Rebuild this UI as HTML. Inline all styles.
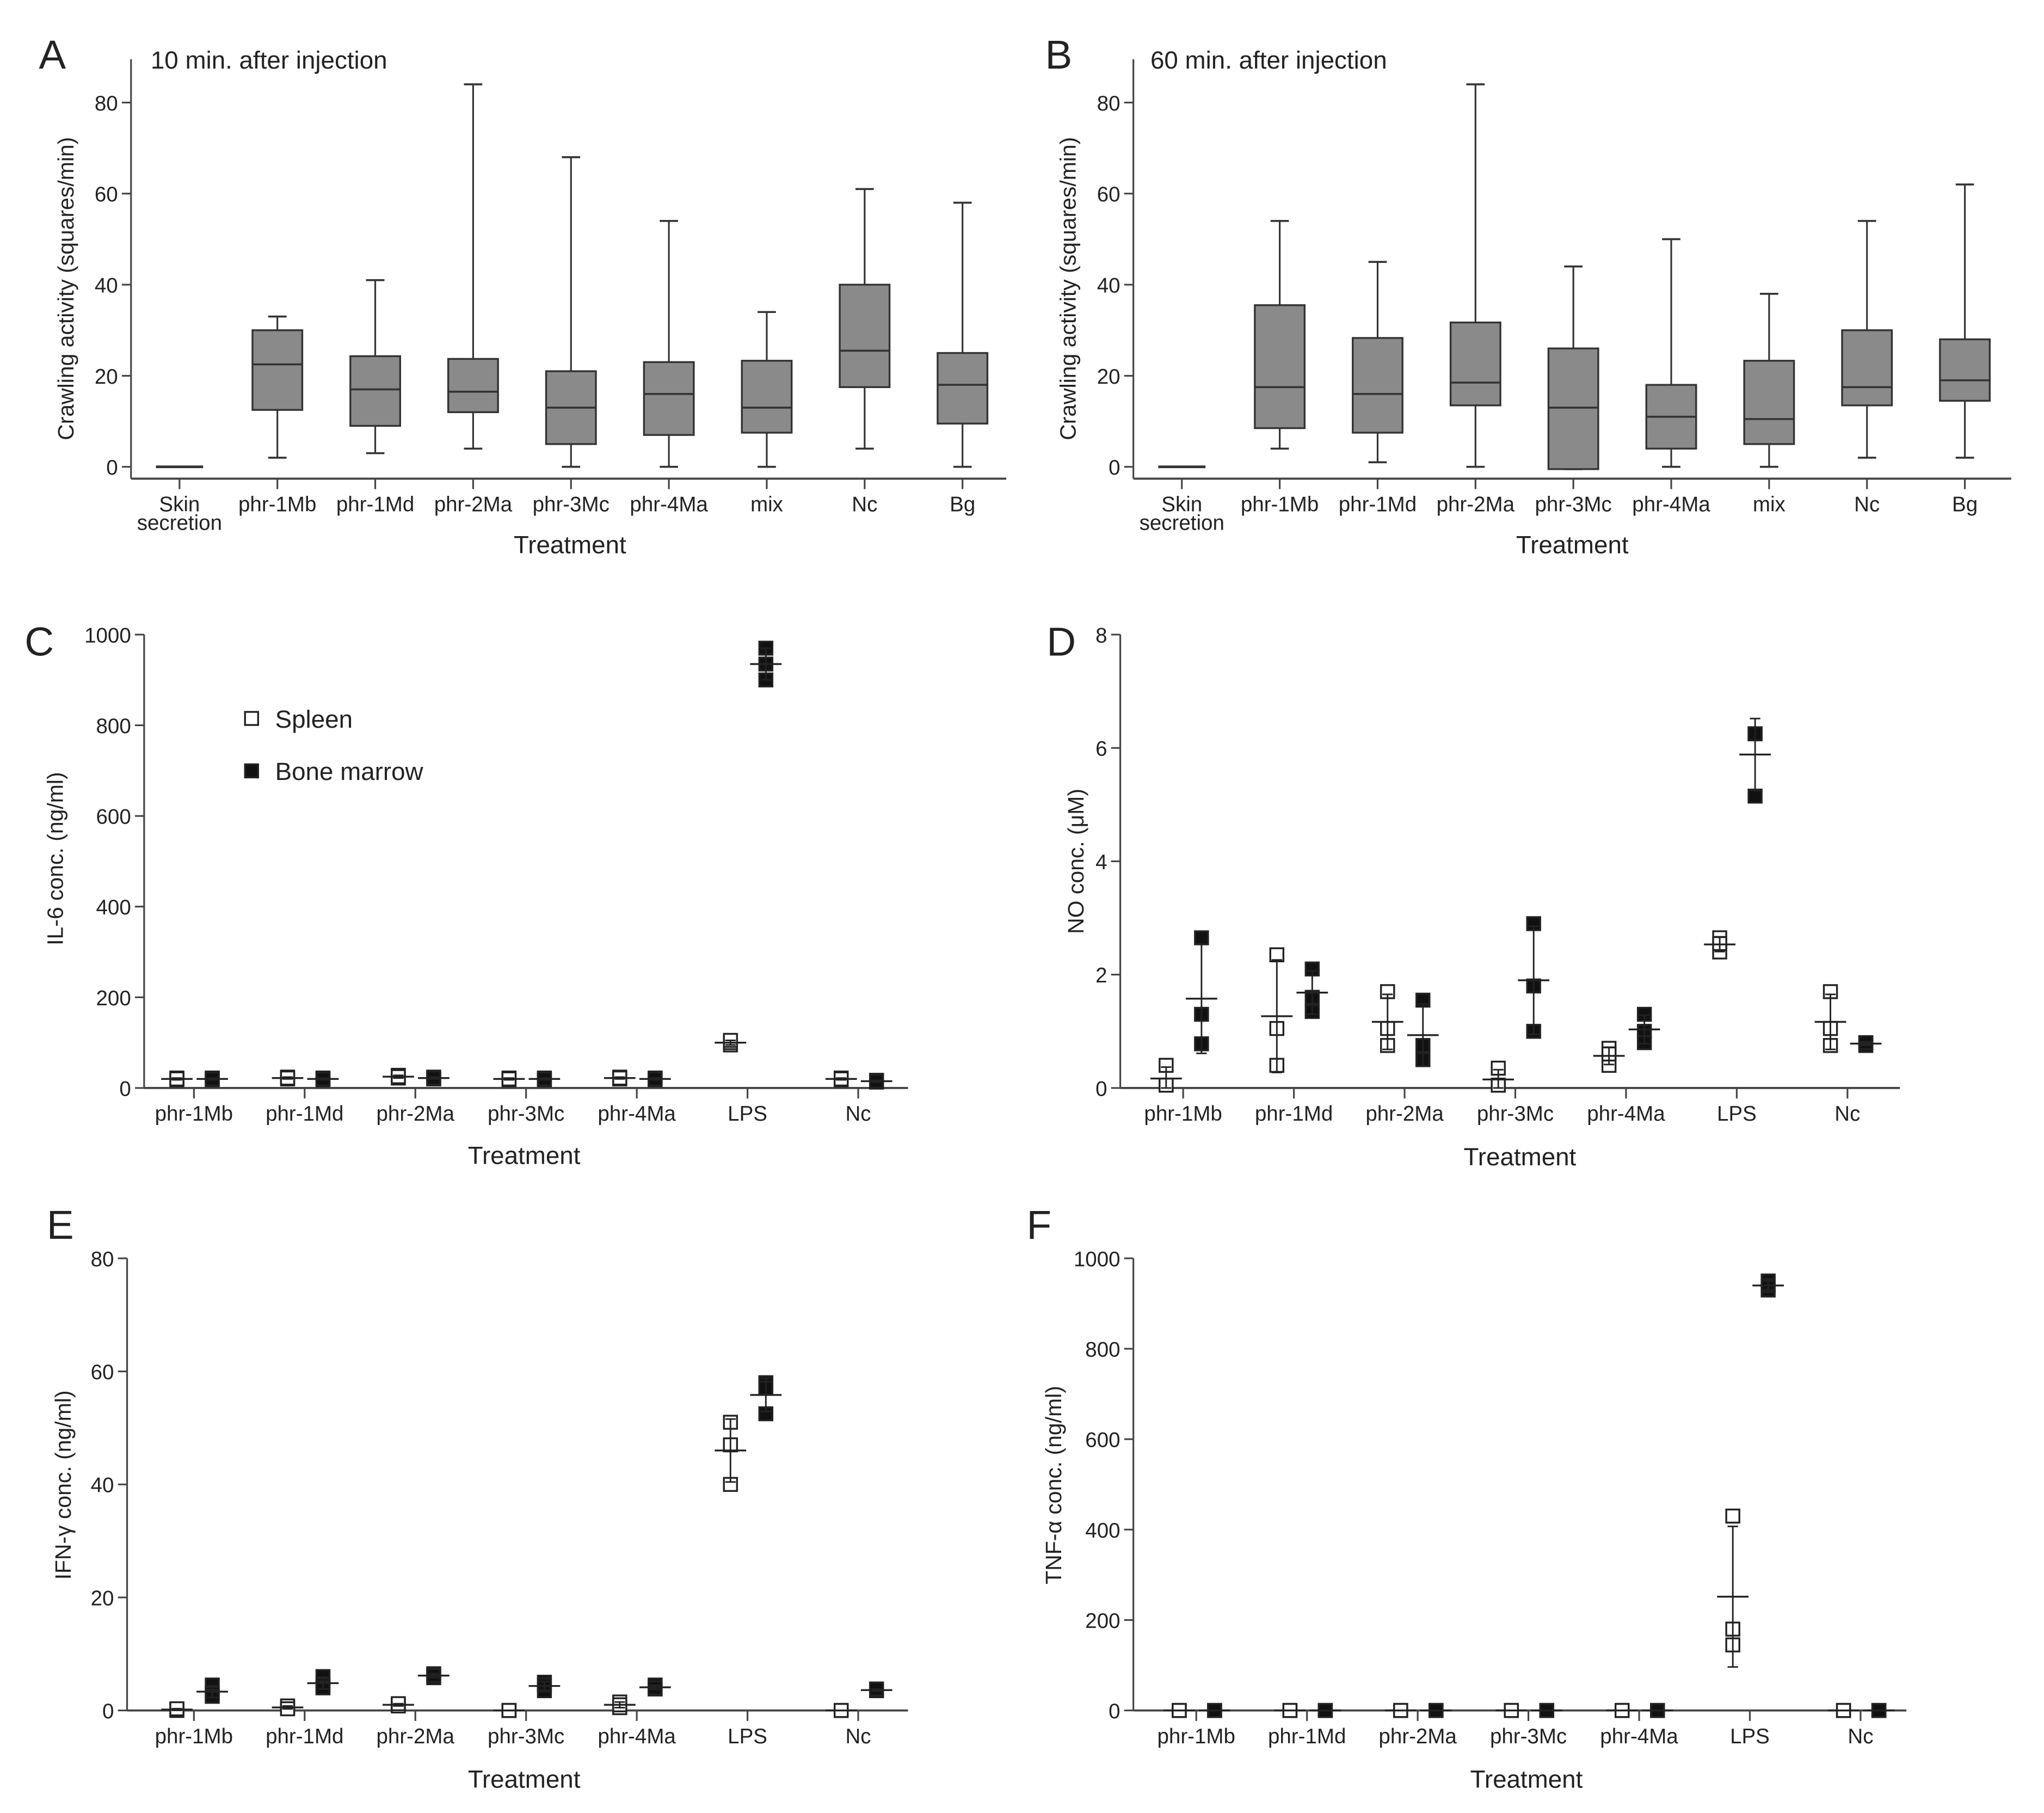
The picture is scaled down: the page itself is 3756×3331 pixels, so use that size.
<!DOCTYPE html>
<html><head><meta charset="utf-8"><style>
html,body{margin:0;padding:0;background:#fff;}
svg{display:block;font-family:"Liberation Sans",sans-serif;}
</style></head><body>
<svg id="fig" width="3756" height="3331" viewBox="0 0 1560 1383" xmlns="http://www.w3.org/2000/svg"></svg>
<script>
// ---- Data: panels A/B (box plots: min,q1,med,q3,max)
const boxCats = ["Skin|secretion","phr-1Mb","phr-1Md","phr-2Ma","phr-3Mc","phr-4Ma","mix","Nc","Bg"];
const aMin = [0,2,3,4,0,0,0,4,0];
const aQ1  = [0,12.5,9,12,5,7,7.5,17.5,9.5];
const aMed = [0,22.5,17,16.5,13,16,13,25.5,18];
const aQ3  = [0,30,24.3,23.7,21,23,23.3,40,25];
const aMax = [0,33,41,84,68,54,34,61,58];
const bMin = [0,4,1,0,-0.5,0,0,2,2];
const bQ1  = [0,8.5,7.5,13.5,-0.5,4,5,13.5,14.5];
const bMed = [0,17.5,16,18.5,13,11,10.5,17.5,19];
const bQ3  = [0,35.5,28.3,31.7,26,18,23.3,30,28];
const bMax = [0,54,45,84,44,50,38,54,62];
const boxTicks = [0,20,40,60,80];
// ---- Data: panels C-F (scatter, 3 replicates each)
const dotCats = ["phr-1Mb","phr-1Md","phr-2Ma","phr-3Mc","phr-4Ma","LPS","Nc"];
const cSpleen = [[18,22,20],[20,24,22],[22,28,25],[18,22,20],[20,24,22],[95,100,105],[18,22,20]];
const cBone   = [[18,22,20],[18,22,20],[20,24,22],[18,22,20],[18,22,20],[900,935,970],[13,17,15]];
const dSpleen = [[0.4,0.05,0.05],[2.35,1.05,0.4],[1.7,1.05,0.75],[0.35,0.05,0.05],[0.7,0.4,0.6],[2.65,2.4,2.55],[1.7,1.05,0.75]];
const dBone   = [[2.65,1.3,0.78],[2.1,1.6,1.35],[1.55,0.75,0.5],[2.9,1.8,1.0],[1.3,1.0,0.8],[6.25,5.15,6.25],[0.8,0.75,0.8]];
const eSpleen = [[0.2,0,0.3],[0.5,0.8,0.3],[1,0.8,1.2],[0,0,0],[1.5,0.5,1],[51,47,40],[0,0,0]];
const eBone   = [[4.5,3,2.5],[6,4.5,4],[6.5,5.8,6.2],[5,3.5,4.5],[4.5,3.8,4],[58,57,52.5],[3.5,3.5,3.8]];
const fSpleen = [[0,0,0],[0,0,0],[0,0,0],[0,0,0],[0,0,0],[430,180,145],[0,0,0]];
const fBone   = [[0,0,0],[0,0,0],[0,0,0],[0,0,0],[0,0,0],[950,930,940],[0,0,0]];
const cTicks = [0,200,400,600,800,1000];
const dTicks = [0,2,4,6,8];
const eTicks = [0,20,40,60,80];
const fTicks = [0,200,400,600,800,1000];

const NS="http://www.w3.org/2000/svg";
const svg=document.getElementById('fig');
function mk(tag,attrs,parent){const e=document.createElementNS(NS,tag);for(const k in attrs)e.setAttribute(k,attrs[k]);(parent||svg).appendChild(e);return e;}
function txt(s,x,y,size,anchor,parent,rot){const t=mk('text',{x:x,y:y,'font-size':size,'text-anchor':anchor||'middle',fill:'#222'},parent);if(rot)t.setAttribute('transform','rotate(-90 '+x+' '+y+')');t.textContent=s;return t;}

function axes(g,cfg){
  const y=v=>cfg.y0-(v-cfg.vmin)/(cfg.vmax-cfg.vmin)*(cfg.y0-cfg.y1);
  const ax=mk('line',{x1:cfg.ax,y1:cfg.top,x2:cfg.ax,y2:cfg.axisY,stroke:'#444','stroke-width':1.3},g);
  
  const xl=mk('line',{x1:cfg.ax,y1:cfg.axisY,x2:cfg.xEnd,y2:cfg.axisY,stroke:'#444','stroke-width':1.6},g);
  
  cfg.ticks.forEach(t=>{
    mk('line',{x1:cfg.ax-7,y1:y(t),x2:cfg.ax,y2:y(t),stroke:'#444','stroke-width':1.3},g);
    const l=txt(String(t),cfg.ax-10,y(t)+6,16,'end',g);
    
  });
  cfg.cats.forEach((c,i)=>{
    const x=cfg.x0+i*cfg.dx;
    mk('line',{x1:x,y1:cfg.axisY,x2:x,y2:cfg.axisY+8,stroke:'#444','stroke-width':1.3},g);
    const parts=c.split('|');
    parts.forEach((p,j)=>{const l=txt(p,x,cfg.axisY+25+j*14,16,'middle',g);
      });
  });
  const xt=txt('Treatment',cfg.xtX,cfg.xtY,19,'middle',g);
  
  const yt=txt(cfg.ytitle,cfg.ytX,cfg.ytY,17,'middle',g,true);
  
  const pl=txt(cfg.letter,cfg.lx,cfg.ly,31,'middle',g);
  
  return y;
}

function boxPanel(cfg,mn,q1,md,q3,mx,title){
  const g=mk('g',{});
  
  const y=axes(g,cfg);
  const tt=txt(title,cfg.titleX,52,19,'start',g);
  
  const w=38;
  boxCats.forEach((c,i)=>{
    const x=cfg.x0+i*cfg.dx;
    const bg=mk('g',{},g);
    
    if(mx[i]===mn[i]){mk('line',{x1:x-18,y1:y(md[i]),x2:x+18,y2:y(md[i]),stroke:'#333','stroke-width':2},bg);return;}
    mk('line',{x1:x,y1:y(mx[i]),x2:x,y2:y(mn[i]),stroke:'#333','stroke-width':1.3},bg);
    mk('line',{x1:x-7,y1:y(mx[i]),x2:x+7,y2:y(mx[i]),stroke:'#333','stroke-width':1.5},bg);
    mk('line',{x1:x-7,y1:y(mn[i]),x2:x+7,y2:y(mn[i]),stroke:'#333','stroke-width':1.5},bg);
    mk('rect',{x:x-w/2,y:y(q3[i]),width:w,height:y(q1[i])-y(q3[i]),fill:'#8a8a8a',stroke:'#333','stroke-width':1.4},bg);
    mk('line',{x1:x-w/2,y1:y(md[i]),x2:x+w/2,y2:y(md[i]),stroke:'#333','stroke-width':1.5},bg);
  });
}

function stats(a){const m=a.reduce((s,v)=>s+v,0)/a.length;const sd=Math.sqrt(a.reduce((s,v)=>s+(v-m)*(v-m),0)/(a.length-1));return [m,sd];}

function dotPanel(cfg,sp,bm){
  const g=mk('g',{});
  
  const y=axes(g,cfg);
  [[sp,-13,false],[bm,14,true]].forEach(([ser,off,filled])=>{
    ser.forEach((vals,i)=>{
      const x=cfg.x0+i*cfg.dx+off;
      const sg=mk('g',{},g);
      
      
      vals.forEach(v=>{
        mk('rect',{x:x-5,y:y(v)-5,width:10,height:10,fill:filled?'#111':'#fff',stroke:'#222','stroke-width':1.4},sg);
      });
      const [m,sd]=stats(vals);
      const lo=Math.max(cfg.vmin,m-sd),hi=m+sd;
      mk('line',{x1:x,y1:y(hi),x2:x,y2:y(lo),stroke:'#222','stroke-width':1.2},sg);
      mk('line',{x1:x-4,y1:y(hi),x2:x+4,y2:y(hi),stroke:'#222','stroke-width':1.2},sg);
      mk('line',{x1:x-4,y1:y(lo),x2:x+4,y2:y(lo),stroke:'#222','stroke-width':1.2},sg);
      mk('line',{x1:x-12,y1:y(m),x2:x+12,y2:y(m),stroke:'#222','stroke-width':1.4},sg);
    });
  });
  if(cfg.legend){
    const lg=mk('g',{},g);
    
    mk('rect',{x:187,y:543,width:10,height:10,fill:'#fff',stroke:'#222','stroke-width':1.4},lg);
    txt('Spleen',210,555,19,'start',lg);
    mk('rect',{x:187,y:583,width:10,height:10,fill:'#111',stroke:'#222','stroke-width':1.4},lg);
    txt('Bone marrow',210,595,19,'start',lg);
  }
}

const dxB=74.7, dxD=84.5;
boxPanel({letter:'A',lx:40,ly:52,ax:100,top:45,axisY:365,xEnd:768,y0:356,y1:78,vmin:0,vmax:80,ticks:boxTicks,cats:boxCats,x0:137,dx:dxB,xtX:435,xtY:422,ytitle:'Crawling activity (squares/min)',ytX:56,ytY:220,titleX:115},aMin,aQ1,aMed,aQ3,aMax,'10 min. after injection');
boxPanel({letter:'B',lx:808,ly:52,ax:865,top:45,axisY:365,xEnd:1535,y0:356,y1:78,vmin:0,vmax:80,ticks:boxTicks,cats:boxCats,x0:902,dx:dxB,xtX:1200,xtY:422,ytitle:'Crawling activity (squares/min)',ytX:821,ytY:220,titleX:878},bMin,bQ1,bMed,bQ3,bMax,'60 min. after injection');
dotPanel({letter:'C',lx:30,ly:500,ax:110,top:484,axisY:830,xEnd:693,y0:830,y1:484,vmin:0,vmax:1000,ticks:cTicks,cats:dotCats,x0:148,dx:dxD,xtX:400,xtY:888,ytitle:'IL-6 conc. (ng/ml)',ytX:48,ytY:655,legend:true},cSpleen,cBone);
dotPanel({letter:'D',lx:810,ly:500,ax:855,top:484,axisY:830,xEnd:1450,y0:830,y1:484,vmin:0,vmax:8,ticks:dTicks,cats:dotCats,x0:903,dx:dxD,xtX:1160,xtY:889,ytitle:'NO conc. (\u03bcM)',ytX:827,ytY:657},dSpleen,dBone);
dotPanel({letter:'E',lx:46,ly:945,ax:97,top:960,axisY:1305,xEnd:693,y0:1305,y1:960,vmin:0,vmax:80,ticks:eTicks,cats:dotCats,x0:148,dx:dxD,xtX:400,xtY:1364,ytitle:'IFN-\u03b3 conc. (ng/ml)',ytX:54,ytY:1133},eSpleen,eBone);
dotPanel({letter:'F',lx:793,ly:945,ax:865,top:960,axisY:1305,xEnd:1455,y0:1305,y1:960,vmin:0,vmax:1000,ticks:fTicks,cats:dotCats,x0:913,dx:dxD,xtX:1165,xtY:1364,ytitle:'TNF-\u03b1 conc. (ng/ml)',ytX:810,ytY:1133},fSpleen,fBone);
</script>
</body></html>
